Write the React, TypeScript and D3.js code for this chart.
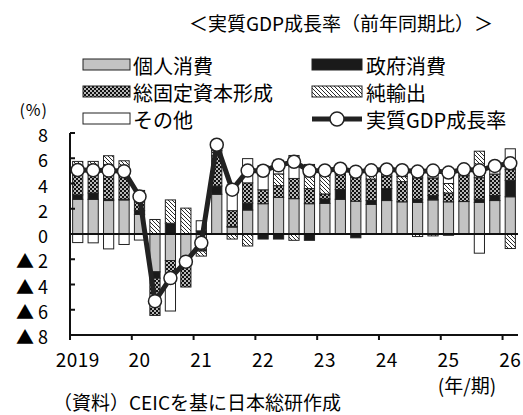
import React from "react";
import * as d3 from "d3";

// 四半期（2019Q1〜2026Q1）
const quarters = [
  "2019Q1", "2019Q2", "2019Q3", "2019Q4",
  "2020Q1", "2020Q2", "2020Q3", "2020Q4",
  "2021Q1", "2021Q2", "2021Q3", "2021Q4",
  "2022Q1", "2022Q2", "2022Q3", "2022Q4",
  "2023Q1", "2023Q2", "2023Q3", "2023Q4",
  "2024Q1", "2024Q2", "2024Q3", "2024Q4",
  "2025Q1", "2025Q2", "2025Q3", "2025Q4",
  "2026Q1",
];
const yearLabels = ["2019", "20", "21", "22", "23", "24", "25", "26"];

// 寄与度（%ポイント）
const consumption = [2.75, 2.75, 2.65, 2.7, 1.55, -3.0, -2.1, -2.1, -1.25, 3.15, 0.55, 1.9, 2.4, 2.9, 2.8, 2.4, 2.43, 2.75, 2.6, 2.35, 2.65, 2.55, 2.5, 2.7, 2.55, 2.57, 2.5, 2.65, 2.95];
const government = [0.35, 0.5, 0.1, 0.05, 0.3, -0.5, 0.85, 0, 0.25, 0.65, 0.05, 0.55, -0.4, -0.4, 0, -0.5, 0.34, 0.77, -0.3, 0.3, 0.95, 0, 0.25, 0.34, -0.1, 0, 0.26, 0.4, 1.3];
const investment = [2.1, 2.0, 2.3, 2.4, 0.7, -2.95, -1.3, -2.1, -0.1, 2.4, 1.25, 1.6, 1.1, 0.93, 1.6, 1.2, 0.4, 1.25, 1.9, 1.7, 1.0, 1.6, 1.7, 1.4, 0.7, 2.05, 1.7, 1.7, 0.85];
const netExports = [0.55, 0.5, 1.15, 0.65, 0.9, 1.15, 1.85, 2.05, -0.4, 0.4, -0.4, -0.95, 0, 0.93, -0.5, 1.05, 1.5, 0.15, 0, 0.4, 0, 0.4, -0.2, -0.15, 0.75, 0, 2.1, 0, -1.15];
const others = [-0.68, -0.7, -1.18, -0.83, -0.48, 0, -2.7, 0, 0.8, 0.45, 2.05, 1.92, 1.9, 1.08, 1.82, 0.86, 0.36, 0.25, 0.74, 0.3, 0.5, 0.5, 0.7, 0.73, 0.95, 0.5, -1.52, 0.64, 1.65];
// 実質GDP成長率（前年同期比、%）
const gdpGrowth = [5.07, 5.05, 5.02, 4.97, 2.97, -5.32, -3.49, -2.19, -0.7, 7.07, 3.51, 5.02, 5.01, 5.44, 5.72, 5.01, 5.03, 5.17, 4.94, 5.04, 5.11, 5.05, 4.95, 5.02, 4.87, 5.12, 5.04, 5.39, 5.6];

const yTicks = [8, 6, 4, 2, 0, -2, -4, -6, -8];

const W = 523;
const H = 415;
const margin = { top: 133, right: 5, bottom: 80, left: 70 };
const FONT = "'Noto Sans CJK JP', 'Noto Sans', sans-serif";

const keys = ["cons", "gov", "inv", "nx", "other"];
const fills: Record<string, string> = {
  cons: "#c3c3c3",
  gov: "#1a1a1a",
  inv: "url(#chk)",
  nx: "url(#hatch)",
  other: "#ffffff",
};

export default function App() {
  const x = d3.scaleBand<string>()
    .domain(quarters)
    .range([margin.left, W - margin.right])
    .paddingInner(0.34)
    .paddingOuter(0.17);
  const y = d3.scaleLinear().domain([-8, 8]).range([H - margin.bottom, margin.top]);
  // 年の区切り用
  const xYear = d3.scaleLinear().domain([2019, 2026.25]).range([margin.left, W - margin.right]);

  const table = quarters.map((q, i) => ({
    q,
    cons: consumption[i],
    gov: government[i],
    inv: investment[i],
    nx: netExports[i],
    other: others[i],
  }));
  const series = d3.stack<any>().keys(keys).offset(d3.stackOffsetDiverging)(table);

  const line = d3.line<number>()
    .x((d, i) => x(quarters[i])! + x.bandwidth() / 2)
    .y((d) => y(d));

  const yearTicks = d3.range(2019, 2027);

  return (
    <svg width={W} height={H} style={{ position: "absolute", left: 0, top: 0, background: "#fff" }} fontFamily={FONT}>
      <defs>
        <pattern id="chk" width="4" height="4" patternUnits="userSpaceOnUse">
          <rect width="4" height="4" fill="#111" />
          <circle cx="1" cy="1" r="0.95" fill="#fff" />
          <circle cx="3" cy="3" r="0.95" fill="#fff" />
        </pattern>
        <pattern id="hatch" width="4" height="4" patternUnits="userSpaceOnUse">
          <rect width="4" height="4" fill="#fff" />
          <path d="M-1,-1 L5,5 M-1,3 L1,5 M3,-1 L5,1" stroke="#111" strokeWidth="0.9" />
        </pattern>
      </defs>

      {/* タイトル */}
      <text x={341} y={22} textAnchor="middle" dominantBaseline="central" fontSize={19}>
        ＜実質GDP成長率（前年同期比）＞
      </text>

      {/* 凡例 */}
      <g fontSize={20}>
        <rect x={83} y={59} width={47} height={11} fill={fills.cons} stroke="#222" />
        <text x={133} y={65} dominantBaseline="central">個人消費</text>
        <rect x={312} y={59} width={50} height={11} fill={fills.gov} stroke="#222" />
        <text x={366} y={65} dominantBaseline="central">政府消費</text>
        <rect x={83} y={86} width={47} height={11} fill={fills.inv} stroke="#222" />
        <text x={133} y={92} dominantBaseline="central">総固定資本形成</text>
        <rect x={312} y={86} width={50} height={11} fill={fills.nx} stroke="#222" />
        <text x={366} y={92} dominantBaseline="central">純輸出</text>
        <rect x={83} y={113} width={47} height={11} fill={fills.other} stroke="#222" />
        <text x={133} y={119} dominantBaseline="central">その他</text>
        <line x1={312} x2={362} y1={119} y2={119} stroke="#222" strokeWidth={5} />
        <circle cx={337} cy={119} r={7} fill="#fff" stroke="#222" strokeWidth={1.5} />
        <text x={366} y={119} dominantBaseline="central">実質GDP成長率</text>
      </g>
      <text x={48} y={109} textAnchor="end" dominantBaseline="central" fontSize={16} letterSpacing={1}>(%)</text>

      {/* 棒グラフ */}
      {series.map((s) => (
        <g key={s.key}>
          {s.map((d, i) => {
            const h = Math.abs(y(d[0]) - y(d[1]));
            if (h < 0.01) return null;
            return (
              <rect
                key={i}
                x={x(quarters[i])}
                y={Math.min(y(d[0]), y(d[1]))}
                width={x.bandwidth()}
                height={h}
                fill={fills[s.key]}
                stroke="#222"
                strokeWidth={1}
              />
            );
          })}
        </g>
      ))}

      {/* ゼロ線 */}
      <line x1={margin.left} x2={W - margin.right} y1={y(0)} y2={y(0)} stroke="#111" strokeWidth={2.2} />

      {/* 軸 */}
      <line x1={margin.left} x2={margin.left} y1={y(8)} y2={y(-8)} stroke="#111" strokeWidth={2} />
      <line x1={margin.left} x2={W - margin.right} y1={y(-8)} y2={y(-8)} stroke="#111" strokeWidth={2} />
      {yTicks.map((t) => (
        <g key={t}>
          <line x1={margin.left} x2={margin.left + 5} y1={y(t)} y2={y(t)} stroke="#111" strokeWidth={2} />
          <text x={48} y={y(t) + 1} textAnchor="end" dominantBaseline="central" fontSize={18}>
            {t < 0 ? "▲ " + Math.abs(t) : String(t)}
          </text>
        </g>
      ))}
      {yearTicks.map((yr, k) => (
        <g key={yr}>
          <line x1={xYear(yr)} x2={xYear(yr)} y1={y(-8)} y2={y(-8) + 5} stroke="#111" strokeWidth={2} />
          <text
            x={x(quarters[k * 4])! + x.bandwidth() / 2}
            y={358}
            textAnchor="middle"
            dominantBaseline="central"
            fontSize={19}
            letterSpacing={0.5}
          >
            {yearLabels[k]}
          </text>
        </g>
      ))}

      {/* 実質GDP成長率 */}
      <path d={line(gdpGrowth) || ""} fill="none" stroke="#222" strokeWidth={5} strokeLinejoin="round" />
      {gdpGrowth.map((v, i) => (
        <circle
          key={i}
          cx={x(quarters[i])! + x.bandwidth() / 2}
          cy={y(v)}
          r={6.5}
          fill="#fff"
          stroke="#222"
          strokeWidth={1.5}
        />
      ))}

      <text x={467} y={384} textAnchor="middle" dominantBaseline="central" fontSize={19}>(年/期)</text>
      <text x={53} y={401} dominantBaseline="central" fontSize={19}>（資料）CEICを基に日本総研作成</text>
    </svg>
  );
}
